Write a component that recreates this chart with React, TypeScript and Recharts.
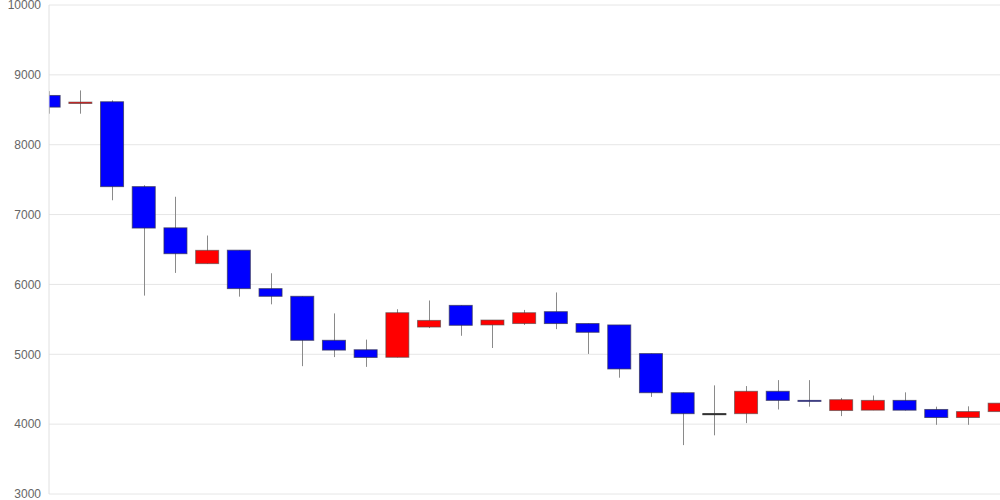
import { ComposedChart, Bar, XAxis, YAxis, CartesianGrid } from "recharts";

const opens = [8705, 8590, 8615, 7400, 6810, 6298, 6490, 5940, 5830, 5200, 5065, 4957, 5390, 5700, 5420, 5440, 5610, 5440, 5420, 5010, 4450, 4150, 4150, 4470, 4340, 4195, 4200, 4340, 4210, 4095, 4180];
const highs = [8767, 8777, 8635, 7420, 7255, 6700, 6490, 6160, 5830, 5585, 5210, 5645, 5770, 5700, 5490, 5635, 5885, 5440, 5420, 5010, 4452, 4555, 4545, 4630, 4630, 4375, 4410, 4455, 4250, 4255, 4390];
const lows = [8444, 8444, 7205, 5840, 6165, 6298, 5825, 5715, 4830, 4960, 4820, 4955, 5375, 5265, 5090, 5420, 5360, 5005, 4665, 4390, 3700, 3840, 4015, 4210, 4250, 4115, 4200, 4195, 3990, 3990, 4055];
const closes = [8538, 8610, 7400, 6807, 6440, 6488, 5940, 5830, 5200, 5060, 4955, 5595, 5485, 5415, 5490, 5595, 5440, 5315, 4790, 4450, 4150, 4150, 4470, 4340, 4330, 4350, 4340, 4200, 4095, 4180, 4300];
const yTicks = [3000, 4000, 5000, 6000, 7000, 8000, 9000, 10000];

const data = opens.map((open, i) => ({
  idx: i,
  open,
  high: highs[i],
  low: lows[i],
  close: closes[i],
  range: [lows[i], highs[i]],
}));

const Candle = (props: any) => {
  const { x, y, width, height, payload } = props;
  const { open, close, high, low } = payload;
  const top = Math.min(y, y + height);
  const h = Math.abs(height);
  const ratio = high === low ? 0 : h / (high - low);
  const cx = Math.round(x + width / 2) + 0.5;
  const bodyTop = top + (high - Math.max(open, close)) * ratio;
  const bodyH = Math.max(Math.abs(open - close) * ratio, 1);
  let fill = "#333";
  let stroke = "#333";
  if (close > open) {
    fill = "#ff0000";
    stroke = "rgba(70,70,70,0.6)";
  } else if (close < open) {
    fill = "#0000ff";
    stroke = "rgba(50,50,80,0.7)";
  }
  return (
    <g>
      <line x1={cx} x2={cx} y1={top} y2={top + h} stroke="#8a8a8a" strokeWidth={1} />
      <rect x={x} y={bodyTop} width={width} height={bodyH} fill={fill} stroke={stroke} strokeWidth={1} />
    </g>
  );
};

export default function App() {
  return (
    <div style={{ position: "absolute", left: 0, top: 0 }}>
      <ComposedChart
        width={1000}
        height={500}
        data={data}
        margin={{ top: 5, right: 0, bottom: 6, left: 0 }}
      >
        <CartesianGrid stroke="#e6e6e6" vertical={false} />
        <XAxis type="number" dataKey="idx" domain={[0, 30]} hide allowDataOverflow />
        <YAxis
          width={49}
          domain={[3000, 10000]}
          ticks={yTicks}
          interval={0}
          tickLine={false}
          axisLine={{ stroke: "#e0e0e0" }}
          tick={{ fill: "#666", fontSize: 12, fontFamily: "Liberation Sans, Arial, sans-serif" }}
        />
        <Bar dataKey="range" barSize={23} shape={Candle} isAnimationActive={false} />
      </ComposedChart>
    </div>
  );
}
